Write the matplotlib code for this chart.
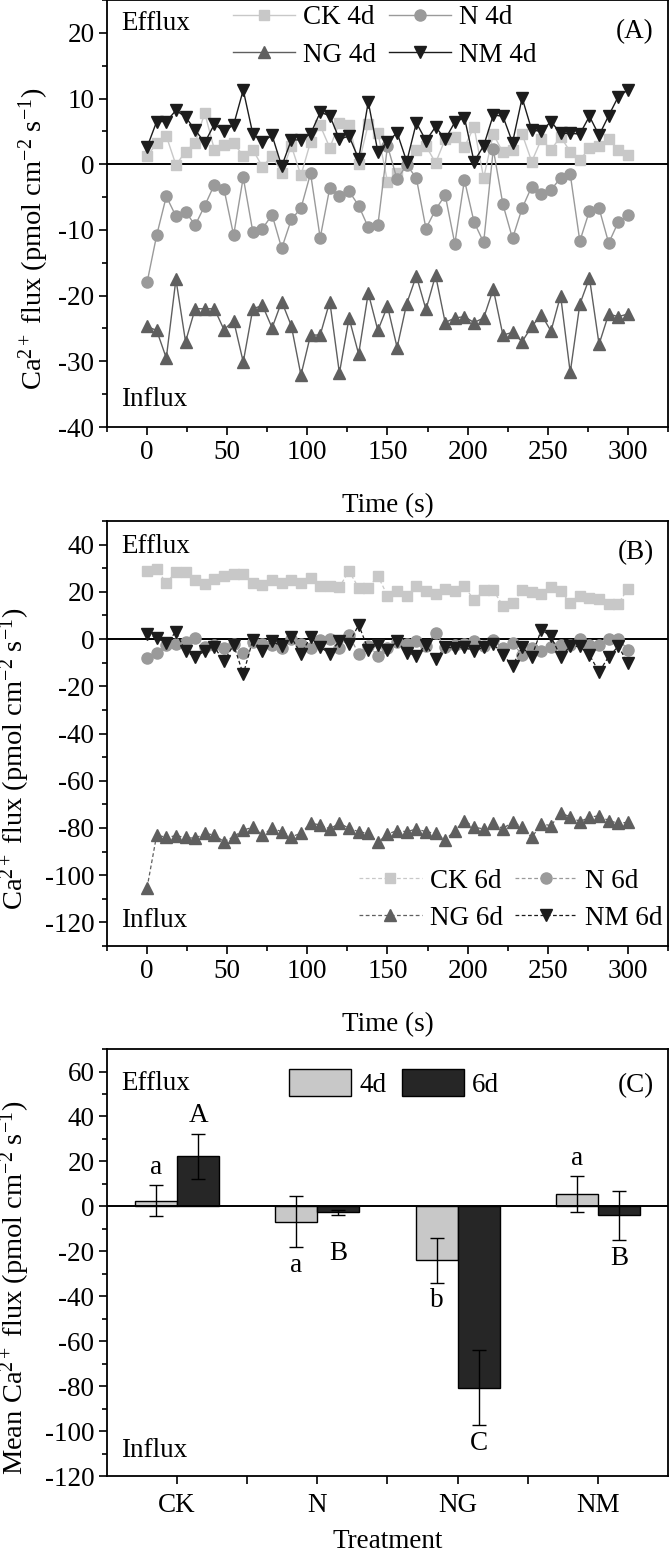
import numpy as np
import matplotlib
matplotlib.use("Agg")
import matplotlib.pyplot as plt
from matplotlib.ticker import MultipleLocator, FixedLocator

plt.rcParams['font.family'] = ['Liberation Serif', 'DejaVu Serif']
plt.rcParams['mathtext.fontset'] = 'custom'
plt.rcParams['mathtext.rm'] = 'Liberation Serif'
plt.rcParams['mathtext.it'] = 'Liberation Serif:italic'
plt.rcParams['axes.unicode_minus'] = False

# time points (s), one reading every 6 s
t = np.arange(0, 301, 6)

# panel A: 4 d fluxes
ck4 = [1.2, 3.2, 4.3, -0.1, 1.9, 3.3, 7.8, 2.2, 2.9, 3.2, 1.3, 2.2, -0.4, 1.3, -1.3, 2.8, -1.7,
       3.4, 5.9, 2.5, 6.3, 6.0, 0.0, 6.1, 4.8, -2.7, -1.3, 0.0, 2.2, 2.8, 0.2, 3.8, 4.2, 2.6,
       5.7, -2.1, 4.6, 1.8, 2.2, 4.6, 0.4, 3.8, 2.2, 4.2, 1.9, 0.7, 2.4, 2.8, 3.8, 2.2, 1.4]
n4 = [-18.0, -10.8, -4.9, -7.9, -7.2, -9.3, -6.3, -3.1, -3.8, -10.8, -2.0, -10.3, -9.8, -7.7,
      -12.8, -8.4, -6.7, -1.4, -11.2, -3.6, -4.9, -4.1, -6.3, -9.6, -9.3, 2.8, -2.3, -0.1, -2.1,
      -9.8, -6.9, -4.7, -12.1, -2.4, -8.8, -11.9, 2.3, -6.1, -11.3, -6.7, -3.4, -4.5, -3.9,
      -2.1, -1.5, -11.7, -7.1, -6.7, -12.0, -8.8, -7.7]
ng4 = [-24.7, -25.3, -29.5, -17.5, -27.0, -22.0, -22.0, -22.0, -25.2, -23.8, -30.1, -22.0,
       -21.5, -24.9, -20.9, -24.6, -32.1, -26.0, -26.0, -20.9, -31.8, -23.4, -28.9, -19.6,
       -25.3, -21.6, -27.9, -21.2, -17.0, -22.1, -16.9, -24.1, -23.4, -23.2, -24.1, -23.4,
       -19.0, -26.0, -25.6, -27.0, -24.7, -22.9, -25.4, -20.0, -31.7, -21.3, -17.3, -27.4,
       -22.8, -23.2, -22.8]
nm4 = [2.6, 6.5, 6.5, 8.2, 7.2, 5.2, 3.3, 6.1, 5.0, 6.0, 11.3, 4.6, 3.4, 4.4, -0.3, 3.7, 3.7,
       4.6, 7.9, 7.4, 3.8, 4.3, 0.8, 9.5, 1.9, 3.4, 4.8, 0.4, 6.3, 3.6, 5.7, 3.8, 6.4, 7.1, 0.4,
       2.8, 7.5, 7.3, 3.3, 10.1, 5.2, 5.0, 6.5, 4.7, 4.7, 4.6, 7.3, 4.4, 7.4, 10.3, 11.3]

# panel B: 6 d fluxes
ck6 = [28.8, 29.5, 23.8, 28.4, 28.4, 25.2, 23.4, 25.5, 26.7, 27.7, 27.7, 23.8, 23.1, 25.0,
       23.8, 25.0, 23.8, 26.0, 22.4, 22.4, 22.1, 28.8, 21.7, 21.7, 26.7, 18.4, 20.3, 18.2,
       22.4, 20.3, 19.1, 21.0, 20.3, 22.4, 16.5, 20.6, 20.6, 14.2, 15.3, 20.6, 20.0, 19.1,
       22.0, 20.3, 15.3, 18.2, 17.4, 17.0, 14.9, 14.9, 21.4]
n6 = [-8.1, -5.7, -2.4, -2.1, -1.4, 0.4, -3.4, -2.4, -3.8, -2.0, -6.0, -1.4, -2.0, -2.4, -3.8,
      0.0, -2.0, -3.8, -0.6, 0.0, -3.8, 1.6, -6.2, -2.8, -7.0, -3.8, -1.3, -2.0, -1.0, -2.8,
      2.6, -3.4, -2.7, -2.1, -1.0, -2.8, -0.3, -3.8, -1.7, -6.7, -3.8, -5.2, -3.4, -2.7, -2.7,
      0.0, -2.7, -2.4, 0.0, 0.0, -4.5]
ng6 = [-105.3, -83.0, -84.0, -83.3, -84.0, -84.4, -82.3, -83.0, -85.8, -83.7, -80.9, -79.7,
       -83.0, -80.1, -81.6, -83.7, -82.3, -78.0, -78.7, -80.4, -78.0, -80.1, -81.6, -82.3,
       -86.1, -82.6, -81.1, -81.6, -80.4, -81.6, -82.3, -85.1, -81.1, -76.9, -79.7, -80.4,
       -77.9, -80.4, -77.3, -79.7, -84.0, -78.3, -79.0, -73.8, -75.2, -77.3, -75.5, -74.8,
       -76.9, -78.0, -77.6]
nm6 = [2.3, 0.4, -1.7, 3.0, -5.2, -7.4, -5.2, -3.4, -9.5, -2.4, -14.9, -0.3, -5.2, -1.0, -3.1,
       0.7, -6.2, 0.7, -3.4, -6.2, -0.7, -2.0, 6.1, -4.5, -2.4, -4.8, -1.0, -5.7, -7.0, -2.4,
       -8.5, -3.4, -3.8, -3.4, -5.2, -3.4, -2.0, -6.7, -11.3, -3.4, -7.4, 4.0, 1.1, -7.4, -3.1,
       -3.1, -6.7, -14.0, -7.4, -3.1, -10.2]

# panel C: means and errors
treatments = ['CK', 'N', 'NG', 'NM']
mean4 = [2.5, -6.8, -24.0, 5.4]
err4 = [7.0, 11.4, 9.9, 7.9]
mean6 = [22.3, -2.7, -80.7, -4.0]
err6 = [10.0, 1.0, 16.8, 11.0]
letters4 = ['a', 'a', 'b', 'a']
letters6 = ['A', 'B', 'C', 'B']

colors = {'CK': '#c8c8c8', 'N': '#9a9a9a', 'NG': '#5f5f5f', 'NM': '#1c1c1c'}
markers = {'CK': 's', 'N': 'o', 'NG': '^', 'NM': 'v'}
msize = {'CK': 7, 'N': 8, 'NG': 9, 'NM': 9}
FS = 19.5
LFS = 20.5

fig = plt.figure(figsize=(6.7, 15.59), dpi=100)
axA = fig.add_axes([0.1597, 0.7261, 0.8373, 0.2739])
axB = fig.add_axes([0.1597, 0.3932, 0.8373, 0.2726])
axC = fig.add_axes([0.1597, 0.0532, 0.8373, 0.2739])


def style(ax):
    for s in ax.spines.values():
        s.set_linewidth(1.3)
    ax.tick_params(which='major', direction='out', length=6, width=1.2, labelsize=FS, pad=3)
    ax.tick_params(which='minor', direction='out', length=3.5, width=1.2)


ylab = 'Ca$^{2+}$ flux (pmol cm$^{-2}$ s$^{-1}$)'
leg_kw = dict(ncol=2, loc='upper left', frameon=False, fontsize=FS, handlelength=2.3,
              handletextpad=0.3, columnspacing=0.45, labelspacing=0.45, borderpad=0.2,
              borderaxespad=0)

# ---- panel A
series4 = {'CK': ck4, 'N': n4, 'NG': ng4, 'NM': nm4}
lines = {}
for k, v in series4.items():
    lines[k], = axA.plot(t, v, color=colors[k], marker=markers[k], ms=msize[k], mec=colors[k],
                         lw=1.0, label=k + ' 4d')
axA.axhline(0, color='black', lw=1.4, zorder=0)
axA.set_xlim(-25, 325)
axA.set_ylim(-40, 25)
axA.xaxis.set_major_locator(MultipleLocator(50))
axA.xaxis.set_minor_locator(MultipleLocator(25))
axA.yaxis.set_major_locator(MultipleLocator(10))
axA.yaxis.set_minor_locator(MultipleLocator(5))
style(axA)
axA.set_xlabel('Time (s)', fontsize=FS)
axA.set_ylabel(ylab, fontsize=LFS)
axA.xaxis.set_label_coords(0.5, -0.155)
axA.yaxis.set_label_coords(-0.10, 0.44)
axA.text(0.025, 0.945, 'Efflux', transform=axA.transAxes, fontsize=FS, va='center')
axA.text(0.025, 0.065, 'Influx', transform=axA.transAxes, fontsize=FS, va='center')
axA.text(0.975, 0.925, '(A)', transform=axA.transAxes, fontsize=FS, va='center', ha='right')
axA.legend(handles=[lines['CK'], lines['NG'], lines['N'], lines['NM']],
           bbox_to_anchor=(0.215, 1.0), **leg_kw)

# ---- panel B
series6 = {'CK': ck6, 'N': n6, 'NG': ng6, 'NM': nm6}
lines = {}
for k, v in series6.items():
    lines[k], = axB.plot(t, v, color=colors[k], marker=markers[k], ms=msize[k], mec=colors[k],
                         lw=0.9, ls=(0, (3, 2)), label=k + ' 6d')
axB.axhline(0, color='black', lw=1.4, zorder=0)
axB.set_xlim(-25, 325)
axB.set_ylim(-130, 50)
axB.xaxis.set_major_locator(MultipleLocator(50))
axB.xaxis.set_minor_locator(MultipleLocator(25))
axB.yaxis.set_major_locator(MultipleLocator(20))
axB.yaxis.set_minor_locator(MultipleLocator(10))
style(axB)
axB.set_xlabel('Time (s)', fontsize=FS)
axB.set_ylabel(ylab, fontsize=LFS)
axB.xaxis.set_label_coords(0.5, -0.155)
axB.yaxis.set_label_coords(-0.134, 0.44)
axB.text(0.025, 0.94, 'Efflux', transform=axB.transAxes, fontsize=FS, va='center')
axB.text(0.025, 0.06, 'Influx', transform=axB.transAxes, fontsize=FS, va='center')
axB.text(0.975, 0.925, '(B)', transform=axB.transAxes, fontsize=FS, va='center', ha='right')
axB.legend(handles=[lines['CK'], lines['NG'], lines['N'], lines['NM']],
           bbox_to_anchor=(0.44, 0.195), **leg_kw)

# ---- panel C
x = np.arange(len(treatments))
w = 0.3
axC.bar(x - w / 2, mean4, w, color='#c8c8c8', edgecolor='black', lw=1.0, label='4d')
axC.bar(x + w / 2, mean6, w, color='#262626', edgecolor='black', lw=1.0, label='6d')
axC.errorbar(x - w / 2, mean4, yerr=err4, fmt='none', ecolor='black', elinewidth=1.0,
             capsize=5, capthick=1.0)
axC.errorbar(x + w / 2, mean6, yerr=err6, fmt='none', ecolor='black', elinewidth=1.0,
             capsize=5, capthick=1.0)
axC.axhline(0, color='black', lw=1.4)
for i in range(len(treatments)):
    for xi, m, e, lab in [(x[i] - w / 2, mean4[i], err4[i], letters4[i]),
                          (x[i] + w / 2, mean6[i], err6[i], letters6[i])]:
        if m >= 0:
            yl = m + e + 8
        elif e < 3:
            yl = -21
        else:
            yl = m - e - 8
        axC.text(xi, yl, lab, ha='center', va='center', fontsize=FS)
axC.set_xlim(-0.5, 3.5)
axC.set_ylim(-120, 70)
axC.set_xticks(x)
axC.set_xticklabels(treatments)
axC.xaxis.set_minor_locator(FixedLocator([0.5, 1.5, 2.5]))
axC.yaxis.set_major_locator(MultipleLocator(20))
axC.yaxis.set_minor_locator(MultipleLocator(10))
style(axC)
axC.tick_params(axis='x', which='minor', length=6)
axC.tick_params(axis='x', which='major', pad=6)
axC.set_xlabel('Treatment', fontsize=FS)
axC.set_ylabel('Mean ' + ylab, fontsize=LFS)
axC.xaxis.set_label_coords(0.5, -0.125)
axC.yaxis.set_label_coords(-0.134, 0.44)
axC.text(0.025, 0.92, 'Efflux', transform=axC.transAxes, fontsize=FS, va='center')
axC.text(0.025, 0.06, 'Influx', transform=axC.transAxes, fontsize=FS, va='center')
axC.text(0.975, 0.915, '(C)', transform=axC.transAxes, fontsize=FS, va='center', ha='right')
axC.legend(ncol=2, loc='upper left', bbox_to_anchor=(0.315, 0.965), frameon=False,
           fontsize=FS, handlelength=2.3, handleheight=1.15, handletextpad=0.3,
           columnspacing=0.55, borderpad=0.2, borderaxespad=0)

fig.savefig('out.png', dpi=100)
